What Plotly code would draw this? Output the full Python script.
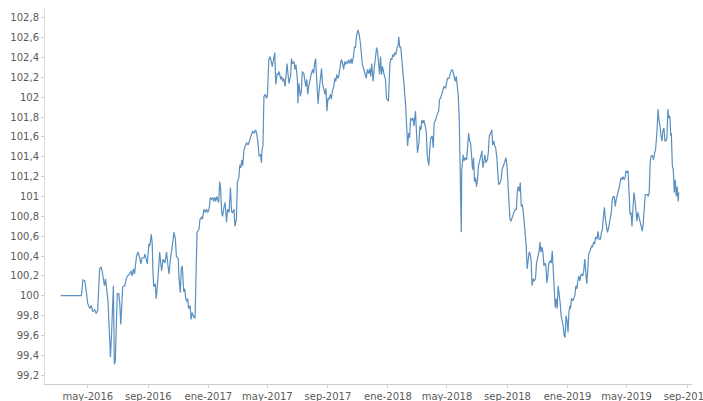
import plotly.graph_objects as go

# ---- data (month-day, value) per year ----
d2016 = ["03-07","04-18","04-20","04-21","04-25","04-28","05-01","05-05","05-08","05-11","05-15","05-18","05-21",
         "05-25","05-28","05-30","06-03","06-04","06-06","06-09","06-11","06-14","06-16","06-18","06-20","06-22",
         "06-24","06-26","06-28","06-30","07-03","07-05","07-07","07-09","07-11","07-15","07-18","07-21","07-25",
         "07-28","07-30","08-02","08-04","08-08","08-11","08-15","08-17","08-19","08-23","08-25","08-28","08-30",
         "09-02","09-04","09-07","09-09","09-10","09-12","09-15","09-17","09-21","09-24","09-28","10-01","10-05",
         "10-08","10-11","10-13","10-16","10-18","10-21","10-23","10-26","10-28","11-01","11-02","11-05","11-07",
         "11-09","11-12","11-14","11-16","11-18","11-20","11-22","11-25","11-27","11-29","12-03","12-05","12-07",
         "12-09","12-13","12-15","12-18","12-20","12-23","12-26","12-28","12-31"]
v2016 = [100.00,100.00,100.10,100.16,100.15,100.03,99.92,99.87,99.90,99.84,99.86,99.82,99.85,
         100.27,100.29,100.25,100.15,100.10,100.17,100.05,99.95,99.61,99.38,99.58,99.92,100.10,
         99.31,99.35,99.71,100.02,100.02,99.92,99.71,99.95,100.09,100.10,100.17,100.20,100.22,
         100.25,100.20,100.27,100.22,100.40,100.44,100.37,100.32,100.38,100.38,100.42,100.37,100.32,
         100.52,100.50,100.62,100.52,100.29,100.09,100.12,99.97,100.20,100.44,100.25,100.37,100.33,
         100.44,100.30,100.22,100.37,100.47,100.55,100.64,100.57,100.40,100.37,100.20,100.03,100.27,
         100.30,100.04,100.07,99.97,99.94,99.97,99.87,99.90,99.76,99.83,99.78,99.78,100.24,
         100.64,100.67,100.77,100.79,100.77,100.87,100.84,100.87,100.84]

d2017 = ["01-03","01-05","01-07","01-10","01-12","01-14","01-16","01-18","01-20","01-22","01-24","01-26","01-28",
         "01-30","02-02","02-04","02-07","02-09","02-12","02-15","02-17","02-19","02-22","02-24","02-27","03-01",
         "03-04","03-06","03-08","03-10","03-12","03-14","03-17","03-20","03-23","03-26","03-29","04-01","04-04",
         "04-07","04-09","04-12","04-14","04-17","04-19","04-20","04-22","04-24","04-27","04-29","05-01","05-04",
         "05-06","05-08","05-11","05-14","05-16","05-18","05-21","05-23","05-25","05-28","05-30","06-01","06-03",
         "06-06","06-08","06-10","06-12","06-14","06-17","06-19","06-21","06-24","06-26","06-28","07-01","07-02",
         "07-04","07-07","07-09","07-11","07-14","07-16","07-18","07-20","07-22","07-24","07-27","07-29","08-01",
         "08-03","08-05","08-07","08-10","08-12","08-14","08-17","08-19","08-21","08-24","08-26","08-28","08-30",
         "09-01","09-03","09-06","09-08","09-10","09-13","09-15","09-17","09-19","09-21","09-23","09-26","09-28",
         "09-30","10-03","10-05","10-07","10-09","10-11","10-13","10-16","10-18","10-20","10-23","10-25","10-27",
         "10-29","11-01","11-03","11-06","11-08","11-10","11-13","11-15","11-18","11-20","11-23","11-25","11-27",
         "11-29","12-02","12-04","12-07","12-09","12-11","12-13","12-15","12-17","12-19","12-21","12-23","12-25",
         "12-27","12-29"]
v2017 = [100.89,100.99,100.97,100.99,100.95,100.99,100.95,101.00,100.97,100.94,101.15,101.07,100.84,
         100.80,100.90,100.94,100.74,100.87,100.84,101.09,100.85,100.84,100.87,100.70,100.77,101.15,
         101.19,101.32,101.29,101.37,101.31,101.46,101.51,101.54,101.52,101.57,101.62,101.66,101.64,
         101.67,101.64,101.54,101.41,101.42,101.34,101.47,101.51,102.01,102.03,101.99,102.01,102.38,
         102.41,102.38,102.31,102.41,102.45,102.13,102.24,102.23,102.26,102.18,102.21,102.16,102.19,
         102.11,102.23,102.34,102.23,102.14,102.21,102.39,102.34,102.36,102.28,102.33,102.18,101.94,
         102.14,102.01,102.06,102.26,102.24,102.14,102.11,102.18,102.03,102.11,102.21,102.23,102.28,
         102.24,102.34,102.39,102.11,101.93,102.06,102.24,102.29,102.14,102.08,102.03,102.09,101.86,
         101.99,101.98,102.03,101.98,102.06,102.11,102.19,102.16,102.23,102.19,102.21,102.29,102.38,
         102.36,102.28,102.36,102.33,102.36,102.34,102.38,102.34,102.39,102.34,102.41,102.51,102.50,
         102.61,102.68,102.65,102.55,102.45,102.33,102.28,102.23,102.19,102.28,102.24,102.29,102.21,
         102.34,102.16,102.29,102.41,102.50,102.46,102.34,102.23,102.41,102.23,102.31,102.24,102.21,
         102.18,101.99]

d2018 = ["01-02","01-03","01-05","01-07","01-09","01-11","01-13","01-15","01-17","01-20","01-22","01-23","01-25",
         "01-27","01-29","02-01","02-03","02-06","02-08","02-10","02-12","02-14","02-16","02-19","02-21","02-23",
         "02-26","02-28","03-02","03-05","03-07","03-09","03-11","03-13","03-15","03-18","03-20","03-22","03-25",
         "03-27","03-29","04-01","04-03","04-05","04-08","04-10","04-12","04-14","04-16","04-18","04-21","04-23",
         "04-25","04-28","04-30","05-02","05-05","05-07","05-09","05-12","05-14","05-16","05-18","05-20","05-22",
         "05-24","05-26","05-28","05-30","05-31","06-03","06-05","06-07","06-10","06-12","06-14","06-16","06-18",
         "06-20","06-22","06-24","06-26","06-28","06-30","07-02","07-04","07-07","07-09","07-11","07-13","07-15",
         "07-17","07-19","07-22","07-24","07-26","07-29","07-31","08-02","08-04","08-06","08-08","08-10","08-12",
         "08-14","08-17","08-19","08-21","08-24","08-27","08-29","08-31","09-02","09-04","09-06","09-08","09-10",
         "09-12","09-14","09-17","09-19","09-21","09-23","09-25","09-27","09-29","10-01","10-03","10-05","10-07",
         "10-09","10-11","10-13","10-15","10-17","10-19","10-21","10-23","10-25","10-28","10-30","11-02","11-04",
         "11-06","11-08","11-10","11-12","11-14","11-16","11-18","11-20","11-22","11-24","11-27","11-29","12-01",
         "12-03","12-05","12-07","12-09","12-11","12-13","12-15","12-17","12-19","12-21","12-23","12-25","12-27",
         "12-29","12-31"]
v2018 = [101.96,102.14,102.34,102.39,102.38,102.43,102.41,102.45,102.43,102.51,102.53,102.61,102.50,
         102.51,102.41,102.19,102.11,101.91,101.71,101.51,101.64,101.59,101.79,101.77,101.79,101.71,
         101.86,101.67,101.44,101.54,101.71,101.67,101.77,101.74,101.77,101.71,101.64,101.41,101.31,
         101.47,101.59,101.61,101.49,101.74,101.77,101.81,101.84,101.86,101.98,101.99,102.04,102.08,
         102.11,102.09,102.16,102.19,102.19,102.24,102.26,102.28,102.24,102.21,102.16,102.21,102.08,
         102.01,101.77,101.31,100.64,101.27,101.42,101.36,101.39,101.37,101.47,101.64,101.56,101.54,
         101.41,101.27,101.39,101.15,101.19,101.10,101.17,101.31,101.37,101.42,101.46,101.29,101.39,
         101.42,101.34,101.37,101.44,101.61,101.64,101.67,101.52,101.56,101.51,101.49,101.41,101.27,
         101.12,101.14,101.17,101.27,101.31,101.36,101.39,101.31,101.15,100.97,100.77,100.75,100.79,
         100.82,100.84,100.87,100.87,101.05,101.10,101.05,101.14,100.90,100.92,100.85,100.72,100.64,
         100.50,100.27,100.37,100.44,100.42,100.35,100.10,100.17,100.15,100.17,100.33,100.40,100.44,
         100.54,100.44,100.49,100.44,100.30,100.33,100.30,100.13,100.20,100.33,100.35,100.33,100.45,
         100.23,99.97,99.88,99.97,99.87,100.10,100.03,99.93,99.80,99.76,99.70,99.60,99.58,
         99.80,99.75]

d2019 = ["01-02","01-04","01-06","01-07","01-09","01-12","01-14","01-16","01-18","01-20","01-22","01-24","01-26",
         "01-29","02-01","02-03","02-05","02-07","02-09","02-11","02-13","02-15","02-17","02-19","02-21","02-23",
         "02-25","02-27","03-02","03-04","03-06","03-09","03-11","03-13","03-15","03-17","03-19","03-21","03-23",
         "03-25","03-27","03-29","03-31","04-02","04-04","04-06","04-08","04-10","04-12","04-14","04-16","04-18",
         "04-20","04-22","04-24","04-26","04-28","04-30","05-02","05-04","05-06","05-08","05-10","05-12","05-14",
         "05-16","05-18","05-20","05-22","05-24","05-26","05-28","05-30","06-02","06-04","06-06","06-08","06-10",
         "06-12","06-14","06-16","06-18","06-20","06-23","06-25","06-27","06-29","07-02","07-04","07-06","07-08",
         "07-10","07-12","07-14","07-16","07-18","07-20","07-22","07-24","07-26","07-28","07-30","07-31","08-02",
         "08-04","08-06","08-08","08-10","08-12","08-14","08-15"]
v2019 = [99.63,99.85,99.90,99.87,99.97,99.95,99.98,100.00,100.10,100.07,100.15,100.20,100.15,
         100.22,100.20,100.25,100.37,100.20,100.12,100.25,100.42,100.44,100.47,100.50,100.49,100.54,
         100.52,100.59,100.57,100.65,100.57,100.57,100.64,100.67,100.80,100.89,100.77,100.69,100.64,
         100.67,100.74,100.77,100.84,100.97,101.00,101.00,100.90,100.97,101.00,101.05,101.09,101.17,
         101.19,101.17,101.20,101.17,101.19,101.26,101.24,101.26,101.07,100.82,100.84,100.70,100.87,
         101.04,100.97,100.84,100.75,100.84,100.80,100.74,100.70,100.65,100.74,100.90,101.02,101.02,
         101.02,101.00,101.04,101.34,101.41,101.41,101.37,101.44,101.47,101.67,101.88,101.76,101.71,
         101.61,101.56,101.67,101.69,101.56,101.56,101.59,101.88,101.79,101.81,101.61,101.64,101.31,
         101.27,101.04,101.17,101.00,101.10,100.95,101.04]

tick_dates = ["2016-05-01","2016-09-01","2017-01-01","2017-05-01","2017-09-01","2018-01-01",
              "2018-05-01","2018-09-01","2019-01-01","2019-05-01","2019-09-01"]
tick_labels = ["may-2016","sep-2016","ene-2017","may-2017","sep-2017","ene-2018",
               "may-2018","sep-2018","ene-2019","may-2019","sep-2019"]

dates, values = [], []
for year, ds, vs in [(2016, d2016, v2016), (2017, d2017, v2017), (2018, d2018, v2018), (2019, d2019, v2019)]:
    dates += [f"{year}-{d}" for d in ds]
    values += vs

fig = go.Figure(go.Scatter(x=dates, y=values, mode="lines",
                           line=dict(color="#5a8fc0", width=1.2), hoverinfo="skip"))

font = dict(family="DejaVu Sans", size=10, color="#5a5a5a")
fig.update_layout(
    width=703, height=401,
    margin=dict(l=45, r=11, t=8, b=17),
    paper_bgcolor="white", plot_bgcolor="white",
    separators=",.",
    showlegend=False,
    font=font,
)
fig.update_xaxes(type="date", range=["2016-02-04", "2019-09-11"],
                 tickvals=tick_dates, ticktext=tick_labels, tickfont=font,
                 ticks="outside", ticklen=3, tickcolor="#cccccc",
                 showline=True, linecolor="#cccccc", linewidth=1,
                 showgrid=False, zeroline=False, automargin=False,
                 ticklabeloverflow="allow")
fig.update_yaxes(range=[99.11, 102.9], tick0=99.2, dtick=0.2, tickfont=font,
                 ticks="outside", ticklen=3, tickcolor="#cccccc",
                 showline=True, linecolor="#dddddd", linewidth=1,
                 showgrid=False, zeroline=False, automargin=False)

fig.write_html("out.html", config={"displayModeBar": False},
               post_script="document.body.style.margin='0';")
